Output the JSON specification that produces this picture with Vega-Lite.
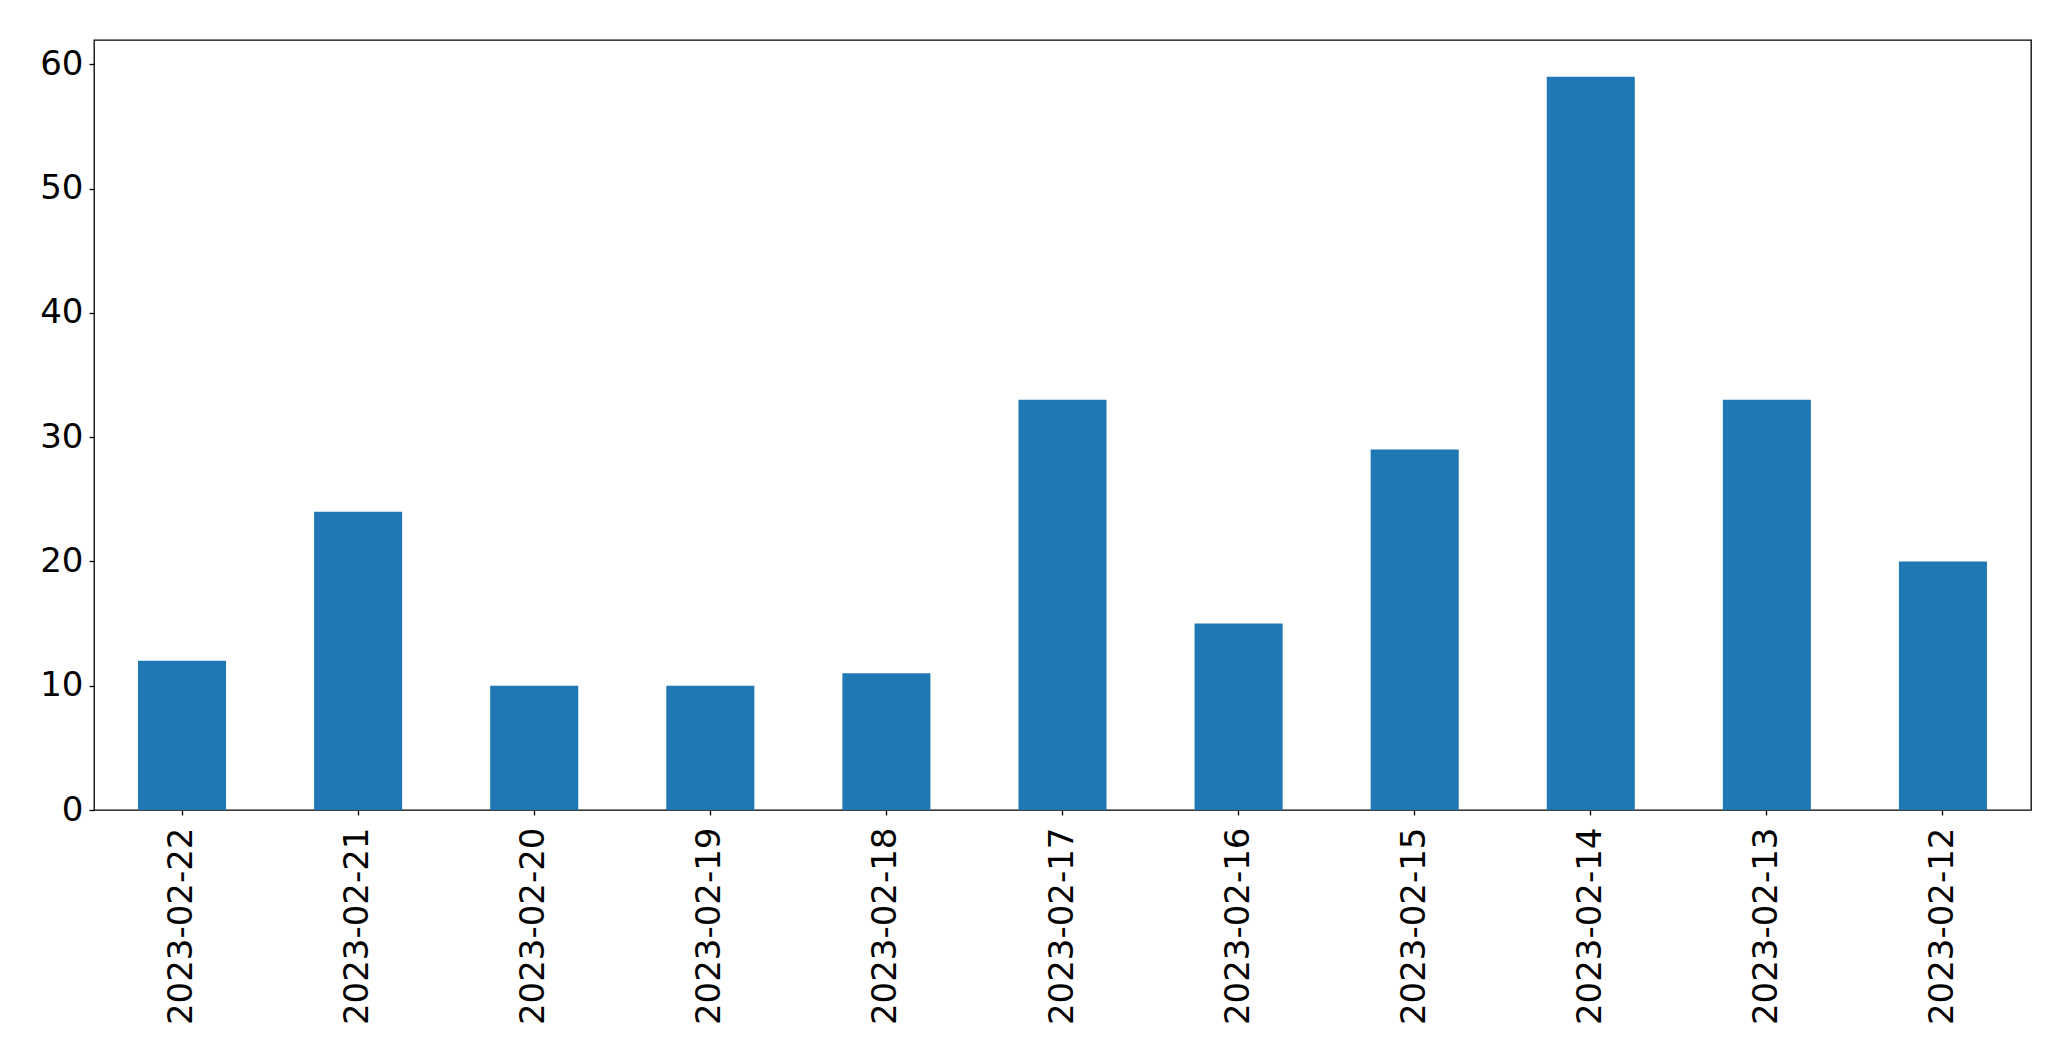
{
  "$schema": "https://vega.github.io/schema/vega-lite/v6.json",
  "autosize": "none",
  "padding": {"left": 94, "top": 40, "right": 40, "bottom": 252},
  "width": 1937,
  "height": 770,
  "background": "white",
  "data": {"values": [
    {"date": "2023-02-22", "count": 12},
    {"date": "2023-02-21", "count": 24},
    {"date": "2023-02-20", "count": 10},
    {"date": "2023-02-19", "count": 10},
    {"date": "2023-02-18", "count": 11},
    {"date": "2023-02-17", "count": 33},
    {"date": "2023-02-16", "count": 15},
    {"date": "2023-02-15", "count": 29},
    {"date": "2023-02-14", "count": 59},
    {"date": "2023-02-13", "count": 33},
    {"date": "2023-02-12", "count": 20}
  ]},
  "mark": {"type": "bar", "color": "#1f77b4"},
  "encoding": {
    "x": {
      "field": "date", "type": "nominal", "sort": null,
      "scale": {"paddingInner": 0.5, "paddingOuter": 0.25},
      "axis": {"title": null, "labelAngle": -90, "labelLimit": 0, "labelFont": "DejaVu Sans", "labelFontSize": 34, "labelColor": "black", "tickColor": "black", "tickSize": 5, "tickWidth": 1.3, "labelPadding": 12, "domain": false}
    },
    "y": {
      "field": "count", "type": "quantitative",
      "scale": {"domain": [0, 61.95], "nice": false},
      "axis": {"title": null, "values": [0, 10, 20, 30, 40, 50, 60], "grid": false, "labelFont": "DejaVu Sans", "labelFontSize": 34, "labelColor": "black", "tickColor": "black", "tickSize": 5, "tickWidth": 1.3, "labelPadding": 6, "domain": false}
    }
  },
  "config": {"view": {"stroke": "black", "strokeWidth": 1.3}}
}
